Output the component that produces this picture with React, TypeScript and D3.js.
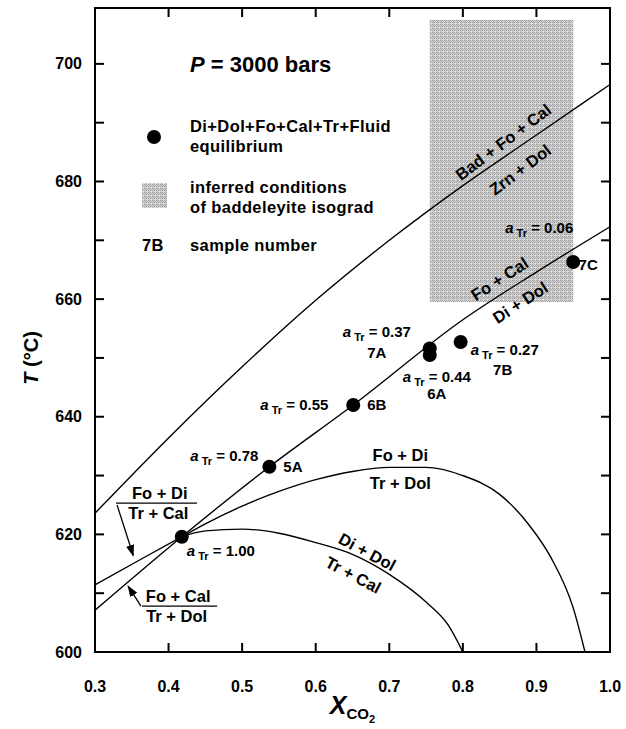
import React from "react";
import { scaleLinear, line, curveMonotoneX, range } from "d3";

// axes
const xTicks = [0.3, 0.4, 0.5, 0.6, 0.7, 0.8, 0.9, 1.0];
const xTickLabels = ["0.3", "0.4", "0.5", "0.6", "0.7", "0.8", "0.9", "1.0"];
const yTicks = [600, 620, 640, 660, 680, 700];
const yMinorTicks = range(600, 710, 10);

// Bad + Fo + Cal = Zrn + Dol
const badX = [0.3, 0.4, 0.5, 0.6, 0.7, 0.8, 0.9, 1.0];
const badT = [623.6, 636.4, 648.5, 659.8, 670.0, 679.3, 687.9, 696.5];

// Fo + Cal = Di + Dol (and Fo + Cal = Tr + Dol below the invariant point)
const foCalX = [0.3, 0.418, 0.537, 0.651, 0.8, 0.9, 1.0];
const foCalT = [607.1, 619.6, 631.5, 642.0, 656.5, 664.6, 672.3];

// Fo + Di = Tr + Cal
const foDiCalX = [0.3, 0.36, 0.418];
const foDiCalT = [611.4, 615.6, 619.6];

// Fo + Di = Tr + Dol
const foDiDolX = [0.418, 0.45, 0.5, 0.55, 0.6, 0.65, 0.7, 0.75, 0.8, 0.85, 0.89, 0.92, 0.95, 0.966];
const foDiDolT = [619.6, 621.8, 624.8, 627.3, 629.3, 630.7, 631.4, 631.4, 630.0, 626.8, 621.6, 616.0, 607.5, 600];

// Di + Dol = Tr + Cal
const diDolX = [0.418, 0.45, 0.5, 0.55, 0.6, 0.65, 0.7, 0.75, 0.78, 0.8];
const diDolT = [619.6, 620.6, 620.9, 620.2, 618.6, 616.6, 613.2, 608.5, 604.6, 600];

// samples
const sampleIds = ["5A", "6B", "7A", "6A", "7B", "7C"];
const sampleX = [0.537, 0.651, 0.755, 0.755, 0.797, 0.95];
const sampleT = [631.5, 642.0, 651.6, 650.5, 652.7, 666.3];
const sampleAct = ["0.78", "0.55", "0.37", "0.44", "0.27", "0.06"];

// invariant point
const invX = 0.418;
const invT = 619.6;
const invAct = "1.00";

// baddeleyite isograd box
const isoX = [0.755, 0.95];
const isoT = [659.5, 707.5];

const FONT = "'Liberation Sans', Arial, Helvetica, sans-serif";

// halftone cell for the shaded box
const dither = [
  ["#9a9a9a", "#c8c8c8", "#a4a4a4", "#dcdcdc"],
  ["#cfcfcf", "#a8a8a8", "#d2d2d2", "#b0b0b0"],
  ["#a2a2a2", "#d6d6d6", "#9c9c9c", "#cccccc"],
  ["#e2e2e2", "#b4b4b4", "#d8d8d8", "#e6e6e6"],
];

function ATr({ x, y, value, anchor = "start" }) {
  return (
    <text x={x} y={y} fontSize={15} fontWeight="bold" textAnchor={anchor}>
      <tspan fontStyle="italic">a</tspan>
      <tspan fontSize={11} dy={4}> Tr</tspan>
      <tspan dy={-4}> = {value}</tspan>
    </text>
  );
}

function App() {
  const width = 626;
  const height = 729;
  const margin = { left: 95, right: 16, top: 8, bottom: 77 };

  const x = scaleLinear().domain([0.3, 1.0]).range([margin.left, width - margin.right]);
  const y = scaleLinear().domain([600, 709.5]).range([height - margin.bottom, margin.top]);

  const x0 = x(0.3), x1 = x(1.0), y0 = y(600), y1 = y(709.5);

  const path = (xs, ts) =>
    line()
      .x((d) => x(d[0]))
      .y((d) => y(d[1]))
      .curve(curveMonotoneX)(xs.map((v, i) => [v, ts[i]]));

  // label offsets around each sample dot (pixels)
  const labelOffsets = [
    { ax: -79, ay: -6, anchorA: "start", ix: 14, iy: 5, anchorI: "start" },
    { ax: -93, ay: 5, anchorA: "start", ix: 14, iy: 5, anchorI: "start" },
    { ax: -87, ay: -12, anchorA: "start", ix: -53, iy: 9, anchorI: "middle" },
    { ax: -27, ay: 27, anchorA: "start", ix: 7, iy: 44, anchorI: "middle" },
    { ax: 10, ay: 13, anchorA: "start", ix: 42, iy: 33, anchorI: "middle" },
    { ax: -68, ay: -29, anchorA: "start", ix: 15, iy: 8, anchorI: "middle" },
  ];

  const rotLabel = (txt, xv, tv, rot, size = 16.5) => (
    <text
      key={txt + xv}
      transform={`translate(${x(xv)},${y(tv)}) rotate(${rot})`}
      textAnchor="middle"
      dy="0.35em"
      fontSize={size}
      fontWeight="bold"
    >
      {txt}
    </text>
  );

  return (
    <svg
      width={width}
      height={height}
      style={{ position: "absolute", left: 0, top: 0, background: "#fff" }}
      fontFamily={FONT}
    >
      <defs>
        <pattern id="stip" width={4} height={4} patternUnits="userSpaceOnUse">
          {dither.map((row, r) =>
            row.map((c, k) => <rect key={r + "-" + k} x={k} y={r} width={1} height={1} fill={c} />)
          )}
        </pattern>
        <clipPath id="plot">
          <rect x={x0} y={y1} width={x1 - x0} height={y0 - y1} />
        </clipPath>
        <marker id="arr" viewBox="0 0 10 10" refX={9} refY={5} markerWidth={9} markerHeight={9} orient="auto">
          <path d="M0,1.5 L10,5 L0,8.5 Z" fill="#000" />
        </marker>
      </defs>

      {/* isograd box */}
      <rect
        x={x(isoX[0])}
        y={y(isoT[1])}
        width={x(isoX[1]) - x(isoX[0])}
        height={y(isoT[0]) - y(isoT[1])}
        fill="url(#stip)"
      />

      {/* reaction curves */}
      <g clipPath="url(#plot)" fill="none" stroke="#000" strokeWidth={1.4}>
        <path d={path(badX, badT)} />
        <path d={path(foCalX, foCalT)} />
        <path d={path(foDiCalX, foDiCalT)} />
        <path d={path(foDiDolX, foDiDolT)} />
        <path d={path(diDolX, diDolT)} />
      </g>

      {/* frame and ticks */}
      <rect x={x0} y={y1} width={x1 - x0} height={y0 - y1} fill="none" stroke="#000" strokeWidth={2} />
      <g stroke="#000" strokeWidth={2}>
        {xTicks.map((t) => (
          <g key={"xt" + t}>
            <line x1={x(t)} x2={x(t)} y1={y0} y2={y0 - 9} />
            <line x1={x(t)} x2={x(t)} y1={y1} y2={y1 + 9} />
          </g>
        ))}
        {yMinorTicks.map((t) => (
          <g key={"yt" + t}>
            <line x1={x0} x2={x0 + 9} y1={y(t)} y2={y(t)} />
            <line x1={x1} x2={x1 - 9} y1={y(t)} y2={y(t)} />
          </g>
        ))}
      </g>
      <g fontSize={16} fontWeight="bold">
        {xTicks.map((t, i) => (
          <text key={"xl" + t} x={x(t)} y={y0 + 40} textAnchor="middle">
            {xTickLabels[i]}
          </text>
        ))}
        {yTicks.map((t) => (
          <text key={"yl" + t} x={x0 - 13} y={y(t)} dy="0.35em" textAnchor="end">
            {t}
          </text>
        ))}
      </g>

      {/* axis titles */}
      <text transform={`translate(38,${y(650)}) rotate(-90)`} textAnchor="middle" fontSize={20} fontWeight="bold">
        <tspan fontStyle="italic">T</tspan> (°C)
      </text>
      <text x={x(0.65)} y={714} textAnchor="middle" fontWeight="bold">
        <tspan fontStyle="italic" fontSize={25}>X</tspan>
        <tspan fontSize={15} dy={5}>CO</tspan>
        <tspan fontSize={11} dy={4}>2</tspan>
      </text>

      {/* legend */}
      <text x={190} y={72} fontSize={22} fontWeight="bold">
        <tspan fontStyle="italic">P</tspan> = 3000 bars
      </text>
      <circle cx={154} cy={137} r={7} fill="#000" />
      <g fontSize={16.5} fontWeight="bold" letterSpacing={0.4}>
        <text x={190} y={132}>Di+Dol+Fo+Cal+Tr+Fluid</text>
        <text x={190} y={152}>equilibrium</text>
        <rect x={142} y={183} width={25} height={25} fill="url(#stip)" />
        <text x={190} y={193}>inferred conditions</text>
        <text x={190} y={213}>of baddeleyite isograd</text>
        <text x={142} y={251}>7B</text>
        <text x={190} y={251}>sample number</text>
      </g>

      {/* reaction labels */}
      {rotLabel("Bad + Fo + Cal", 0.855, 686.7, -37)}
      {rotLabel("Zrn + Dol", 0.878, 682.0, -37)}
      {rotLabel("Fo + Cal", 0.85, 663.4, -33)}
      {rotLabel("Di + Dol", 0.878, 659.4, -33)}
      {rotLabel("Fo + Di", 0.715, 633.5, 0)}
      {rotLabel("Tr + Dol", 0.715, 628.7, 0)}
      {rotLabel("Di + Dol", 0.67, 617.0, 28)}
      {rotLabel("Tr + Cal", 0.651, 613.1, 28)}

      {rotLabel("Fo + Di", 0.388, 627.0, 0)}
      <line x1={x(0.3285)} x2={x(0.4386)} y1={y(625.3)} y2={y(625.3)} stroke="#000" strokeWidth={1.3} />
      {rotLabel("Tr + Cal", 0.386, 623.6, 0)}
      <line
        x1={x(0.33)}
        y1={y(625.0)}
        x2={x(0.352)}
        y2={y(616.4)}
        stroke="#000"
        strokeWidth={1.3}
        markerEnd="url(#arr)"
      />

      {rotLabel("Fo + Cal", 0.413, 609.4, 0)}
      <line x1={x(0.364)} x2={x(0.466)} y1={y(607.8)} y2={y(607.8)} stroke="#000" strokeWidth={1.3} />
      {rotLabel("Tr + Dol", 0.411, 606.0, 0)}
      <line
        x1={x(0.3625)}
        y1={y(607.8)}
        x2={x(0.345)}
        y2={y(611.2)}
        stroke="#000"
        strokeWidth={1.3}
        markerEnd="url(#arr)"
      />

      {/* samples */}
      {sampleIds.map((id, i) => {
        const px = x(sampleX[i]);
        const py = y(sampleT[i]);
        const o = labelOffsets[i];
        return (
          <g key={id}>
            <circle cx={px} cy={py} r={7} fill="#000" />
            <ATr x={px + o.ax} y={py + o.ay} value={sampleAct[i]} anchor={o.anchorA} />
            <text x={px + o.ix} y={py + o.iy} fontSize={15} fontWeight="bold" textAnchor={o.anchorI}>
              {id}
            </text>
          </g>
        );
      })}
      <circle cx={x(invX)} cy={y(invT)} r={7} fill="#000" />
      <ATr x={x(invX) + 5} y={y(invT) + 19} value={invAct} />
    </svg>
  );
}

export default App;
